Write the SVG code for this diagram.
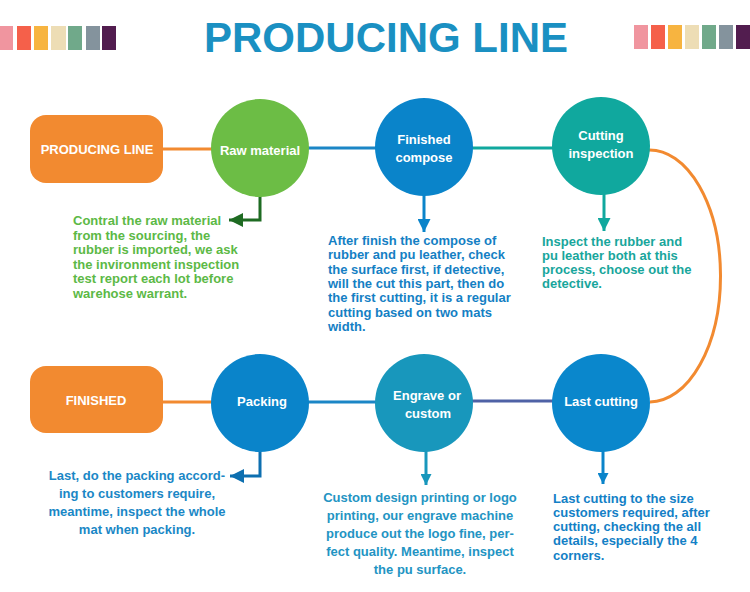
<svg xmlns="http://www.w3.org/2000/svg" width="750" height="592" viewBox="0 0 750 592">
<style>
.t{font-family:"Liberation Sans",Arial,sans-serif;font-weight:bold}
.w{fill:#fff;font-size:13px;text-anchor:middle}
.c{stroke-width:3;fill:none}
.d{font-size:13px}
</style>
<defs>
<marker id="mg" viewBox="0 0 14 14" refX="14" refY="7" markerWidth="16" markerHeight="14" markerUnits="userSpaceOnUse" orient="auto"><path d="M0,0 L14,7 L0,14 z" fill="#1E6B22"/></marker>
<marker id="mb" viewBox="0 0 14 14" refX="14" refY="7" markerWidth="13" markerHeight="13" markerUnits="userSpaceOnUse" orient="auto"><path d="M0,0 L14,7 L0,14 z" fill="#0A84CA"/></marker>
<marker id="mt" viewBox="0 0 14 14" refX="14" refY="7" markerWidth="13" markerHeight="13" markerUnits="userSpaceOnUse" orient="auto"><path d="M0,0 L14,7 L0,14 z" fill="#10A89E"/></marker>
<marker id="mp" viewBox="0 0 14 14" refX="14" refY="7" markerWidth="16" markerHeight="14" markerUnits="userSpaceOnUse" orient="auto"><path d="M0,0 L14,7 L0,14 z" fill="#0D6FB0"/></marker>
<marker id="me" viewBox="0 0 14 14" refX="14" refY="7" markerWidth="11" markerHeight="11" markerUnits="userSpaceOnUse" orient="auto"><path d="M0,0 L14,7 L0,14 z" fill="#1897BC"/></marker>
<marker id="ml" viewBox="0 0 14 14" refX="14" refY="7" markerWidth="11" markerHeight="11" markerUnits="userSpaceOnUse" orient="auto"><path d="M0,0 L14,7 L0,14 z" fill="#0A84CA"/></marker>
</defs>
<rect width="750" height="592" fill="#fff"/>
<g id="swatches-left">
<rect x="-1" y="26" width="14" height="24" fill="#F0959F"/>
<rect x="17" y="26" width="14" height="24" fill="#F5604A"/>
<rect x="34" y="26" width="14" height="24" fill="#F7B440"/>
<rect x="51" y="26" width="15" height="24" fill="#EDDDB5"/>
<rect x="68" y="26" width="14" height="24" fill="#70A98A"/>
<rect x="86" y="26" width="14" height="24" fill="#84939D"/>
<rect x="102" y="26" width="14" height="24" fill="#521D4F"/>
</g>
<g id="swatches-right">
<rect x="634" y="25" width="14" height="24" fill="#F0959F"/>
<rect x="651" y="25" width="14" height="24" fill="#F5604A"/>
<rect x="668" y="25" width="14" height="24" fill="#F7B440"/>
<rect x="685" y="25" width="14" height="24" fill="#EDDDB5"/>
<rect x="702" y="25" width="14" height="24" fill="#70A98A"/>
<rect x="719" y="25" width="14" height="24" fill="#84939D"/>
<rect x="736" y="25" width="14" height="24" fill="#521D4F"/>
</g>
<text class="t" x="386" y="52" font-size="42" fill="#1A90C2" text-anchor="middle">PRODUCING LINE</text>
<g id="connectors">
<line class="c" x1="160" y1="149" x2="212" y2="149" stroke="#F28A30"/>
<line class="c" x1="308" y1="148" x2="376" y2="148" stroke="#1B86C6"/>
<line class="c" x1="472" y1="148" x2="553" y2="148" stroke="#10A89E"/>
<path class="c" d="M649,150 A71,126 0 0 1 650,402" stroke="#F28A30"/>
<line class="c" x1="160" y1="402" x2="212" y2="402" stroke="#F28A30"/>
<line class="c" x1="308" y1="402" x2="376" y2="402" stroke="#1B86C6"/>
<line class="c" x1="472" y1="401" x2="553" y2="401" stroke="#4F62A6"/>
<path class="c" d="M260,196 V220 H229" stroke="#1E6B22" marker-end="url(#mg)"/>
<path class="c" d="M424,195 V232" stroke="#0A84CA" marker-end="url(#mb)"/>
<path class="c" d="M604,194 V231" stroke="#10A89E" marker-end="url(#mt)"/>
<path class="c" d="M260,451 V476 H230" stroke="#0D6FB0" marker-end="url(#mp)"/>
<path class="c" d="M426,451 V485" stroke="#1897BC" marker-end="url(#me)"/>
<path class="c" d="M603,451 V484" stroke="#0A84CA" marker-end="url(#ml)"/>
</g>
<g id="producing-line">
<rect x="30" y="115" width="133" height="68" rx="16" fill="#F28A30"/>
<text class="t w" x="97" y="154">PRODUCING LINE</text>
</g>
<g id="raw-material">
<circle cx="260" cy="148" r="49" fill="#6CBD45"/>
<text class="t w" x="260" y="155">Raw material</text>
</g>
<g id="finished-compose">
<circle cx="424" cy="147" r="49" fill="#0A84CA"/>
<text class="t w" x="424" y="144">Finished</text>
<text class="t w" x="424" y="162">compose</text>
</g>
<g id="cutting-inspection">
<circle cx="601" cy="146" r="49" fill="#10A89E"/>
<text class="t w" x="601" y="140">Cutting</text>
<text class="t w" x="601" y="158">inspection</text>
</g>
<g id="finished">
<rect x="30" y="366" width="133" height="67" rx="16" fill="#F28A30"/>
<text class="t w" x="96" y="405" font-size="16">FINISHED</text>
</g>
<g id="packing">
<circle cx="260" cy="403" r="49" fill="#0A84CA"/>
<text class="t w" x="262" y="406">Packing</text>
</g>
<g id="engrave">
<circle cx="424" cy="403" r="49" fill="#1897BC"/>
<text class="t w" x="427" y="400">Engrave or</text>
<text class="t w" x="428" y="418">custom</text>
</g>
<g id="last-cutting">
<circle cx="601" cy="403" r="49" fill="#0A87CC"/>
<text class="t w" x="601" y="406">Last cutting</text>
</g>
<g id="desc-raw">
<text class="t d" fill="#5CB946" x="73" y="225">Contral the raw material</text>
<text class="t d" fill="#5CB946" x="73" y="239.5">from the sourcing, the</text>
<text class="t d" fill="#5CB946" x="73" y="254">rubber is imported, we ask</text>
<text class="t d" fill="#5CB946" x="73" y="268.5">the invironment inspection</text>
<text class="t d" fill="#5CB946" x="73" y="283">test report each lot before</text>
<text class="t d" fill="#5CB946" x="73" y="297.5">warehose warrant.</text>
</g>
<g id="desc-compose">
<text class="t d" fill="#1480C4" x="328" y="245">After finish the compose of</text>
<text class="t d" fill="#1480C4" x="328" y="259.3">rubber and pu leather, check</text>
<text class="t d" fill="#1480C4" x="328" y="273.6">the surface first, if detective,</text>
<text class="t d" fill="#1480C4" x="328" y="287.9">will the cut this part, then do</text>
<text class="t d" fill="#1480C4" x="328" y="302.2">the first cutting, it is a regular</text>
<text class="t d" fill="#1480C4" x="328" y="316.5">cutting based on two mats</text>
<text class="t d" fill="#1480C4" x="328" y="330.8">width.</text>
</g>
<g id="desc-inspection">
<text class="t d" fill="#18A69C" x="542" y="245.5">Inspect the rubber and</text>
<text class="t d" fill="#18A69C" x="542" y="259.8">pu leather both at this</text>
<text class="t d" fill="#18A69C" x="542" y="274.1">process, choose out the</text>
<text class="t d" fill="#18A69C" x="542" y="288.4">detective.</text>
</g>
<g id="desc-packing">
<text class="t d" fill="#1A87C6" x="137" y="480" text-anchor="middle">Last, do the packing accord-</text>
<text class="t d" fill="#1A87C6" x="137" y="498" text-anchor="middle">ing to customers require,</text>
<text class="t d" fill="#1A87C6" x="137" y="516" text-anchor="middle">meantime, inspect the whole</text>
<text class="t d" fill="#1A87C6" x="137" y="534" text-anchor="middle">mat when packing.</text>
</g>
<g id="desc-engrave">
<text class="t d" fill="#2394C3" x="420" y="502" text-anchor="middle">Custom design printing or logo</text>
<text class="t d" fill="#2394C3" x="420" y="520" text-anchor="middle">printing, our engrave machine</text>
<text class="t d" fill="#2394C3" x="420" y="538" text-anchor="middle">produce out the logo fine, per-</text>
<text class="t d" fill="#2394C3" x="420" y="556" text-anchor="middle">fect quality. Meantime, inspect</text>
<text class="t d" fill="#2394C3" x="420" y="574" text-anchor="middle">the pu surface.</text>
</g>
<g id="desc-last">
<text class="t d" fill="#1380C6" x="553" y="502.5">Last cutting to the size</text>
<text class="t d" fill="#1380C6" x="553" y="516.8">customers required, after</text>
<text class="t d" fill="#1380C6" x="553" y="531.1">cutting, checking the all</text>
<text class="t d" fill="#1380C6" x="553" y="545.4">details, especially the 4</text>
<text class="t d" fill="#1380C6" x="553" y="559.7">corners.</text>
</g>
</svg>
